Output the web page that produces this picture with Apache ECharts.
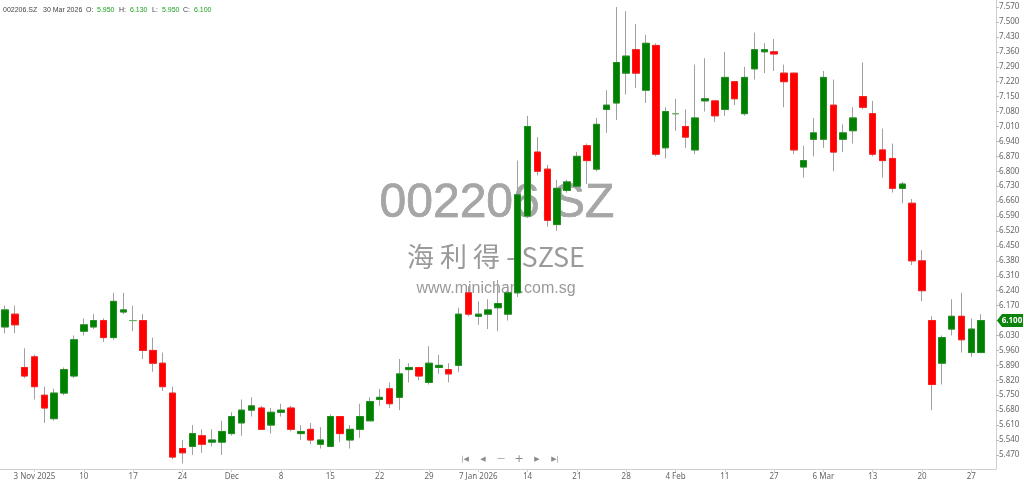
<!DOCTYPE html>
<html><head><meta charset="utf-8">
<script src="https://cdn.jsdelivr.net/npm/echarts@6/dist/echarts.min.js"></script>
<style>html,body{margin:0;padding:0;background:#fff}#c{width:1024px;height:484px}</style>
</head><body><div id="c"></div>
<script>
const symbolCode = '002206.SZ';
const nameCn = '海 利 得 - SZSE';
const site = 'www.minichart.com.sg';

const dates = [
 '2025-10-29','2025-10-30','2025-10-31',
 '2025-11-03','2025-11-04','2025-11-05','2025-11-06','2025-11-07',
 '2025-11-10','2025-11-11','2025-11-12','2025-11-13','2025-11-14',
 '2025-11-17','2025-11-18','2025-11-19','2025-11-20','2025-11-21',
 '2025-11-24','2025-11-25','2025-11-26','2025-11-27','2025-11-28',
 '2025-12-01','2025-12-02','2025-12-03','2025-12-04','2025-12-05',
 '2025-12-08','2025-12-09','2025-12-10','2025-12-11','2025-12-12',
 '2025-12-15','2025-12-16','2025-12-17','2025-12-18','2025-12-19',
 '2025-12-22','2025-12-23','2025-12-24','2025-12-25','2025-12-26',
 '2025-12-29','2025-12-30','2025-12-31',
 '2026-01-05','2026-01-06','2026-01-07','2026-01-08','2026-01-09',
 '2026-01-12','2026-01-13','2026-01-14','2026-01-15','2026-01-16',
 '2026-01-19','2026-01-20','2026-01-21','2026-01-22','2026-01-23',
 '2026-01-26','2026-01-27','2026-01-28','2026-01-29','2026-01-30',
 '2026-02-02','2026-02-03','2026-02-04','2026-02-05','2026-02-06',
 '2026-02-09','2026-02-10','2026-02-11','2026-02-12','2026-02-13',
 '2026-02-25','2026-02-26','2026-02-27',
 '2026-03-02','2026-03-03','2026-03-04','2026-03-05','2026-03-06',
 '2026-03-09','2026-03-10','2026-03-11','2026-03-12','2026-03-13',
 '2026-03-16','2026-03-17','2026-03-18','2026-03-19','2026-03-20',
 '2026-03-23','2026-03-24','2026-03-25','2026-03-26','2026-03-27',
 '2026-03-30'
];

const opens = [
 6.07,6.13,5.88,5.93,5.75,5.64,5.76,5.84,6.05,6.07,
 6.10,6.02,6.14,6.10,6.10,5.96,5.90,5.76,5.50,5.51,
 5.56,5.53,5.53,5.57,5.62,5.68,5.69,5.61,5.67,5.69,
 5.57,5.59,5.52,5.51,5.65,5.54,5.59,5.63,5.73,5.78,
 5.74,5.87,5.88,5.81,5.88,5.87,5.89,6.23,6.12,6.13,
 6.16,6.13,6.23,6.59,6.89,6.81,6.55,6.71,6.73,6.92,
 6.81,7.09,7.12,7.26,7.37,7.18,7.39,6.91,7.07,7.01,
 6.90,7.13,7.13,7.09,7.22,7.07,7.28,7.36,7.36,7.26,
 7.26,6.82,6.95,6.95,7.11,6.95,6.99,7.15,7.07,6.90,
 6.86,6.72,6.65,6.38,6.10,5.90,6.06,6.12,5.95,5.95
];
const closes = [
 6.15,6.08,5.84,5.79,5.69,5.76,5.87,6.01,6.08,6.10,
 6.02,6.19,6.15,6.10,5.96,5.90,5.79,5.46,5.48,5.57,
 5.52,5.54,5.58,5.65,5.68,5.70,5.59,5.67,5.68,5.59,
 5.58,5.54,5.54,5.65,5.57,5.59,5.65,5.72,5.74,5.71,
 5.85,5.88,5.84,5.90,5.89,5.85,6.13,6.13,6.13,6.15,
 6.18,6.23,6.69,7.01,6.80,6.57,6.72,6.75,6.87,6.85,
 7.02,7.11,7.31,7.34,7.26,7.40,6.88,7.08,7.07,6.96,
 7.05,7.14,7.06,7.24,7.14,7.24,7.37,7.37,7.35,7.22,
 6.90,6.85,6.98,7.24,6.89,6.98,7.05,7.10,6.88,6.85,
 6.72,6.74,6.38,6.24,5.80,6.02,6.12,6.01,6.06,6.10
];
const lows = [
 6.04,6.04,5.83,5.73,5.62,5.63,5.75,5.83,6.03,6.06,
 6.00,6.01,6.13,6.05,5.92,5.86,5.77,5.45,5.43,5.47,
 5.48,5.51,5.47,5.56,5.56,5.65,5.59,5.57,5.65,5.58,
 5.54,5.52,5.50,5.51,5.53,5.50,5.55,5.63,5.70,5.69,
 5.68,5.81,5.82,5.80,5.85,5.81,5.86,6.12,6.08,6.06,
 6.05,6.10,6.21,6.58,6.78,6.54,6.52,6.70,6.72,6.74,
 6.80,6.98,7.04,7.16,7.19,7.12,6.87,6.86,6.99,6.91,
 6.88,7.08,7.03,7.06,7.11,7.06,7.23,7.26,7.27,7.10,
 6.88,6.77,6.87,6.91,6.80,6.89,6.93,7.09,6.87,6.77,
 6.70,6.65,6.36,6.19,5.68,5.80,6.03,5.95,5.93,5.95
];
const highs = [
 6.17,6.17,5.97,5.94,5.79,5.78,5.88,6.03,6.11,6.13,
 6.11,6.23,6.23,6.17,6.13,6.02,5.95,5.79,5.54,5.61,
 5.59,5.59,5.63,5.67,5.73,5.74,5.70,5.69,5.71,5.70,
 5.61,5.62,5.60,5.66,5.65,5.61,5.71,5.74,5.78,5.81,
 5.92,5.90,5.88,5.98,5.94,5.90,6.16,6.26,6.19,6.20,
 6.29,6.27,6.85,7.06,6.96,6.83,6.76,6.76,6.89,6.93,
 7.05,7.18,7.57,7.55,7.49,7.44,7.40,7.10,7.14,7.09,
 7.30,7.33,7.13,7.36,7.22,7.29,7.45,7.40,7.42,7.30,
 7.26,6.92,7.05,7.27,7.23,7.02,7.10,7.31,7.13,7.00,
 6.93,6.75,6.67,6.43,6.12,6.03,6.20,6.23,6.11,6.13
];

const yTicks = [5.47,5.54,5.61,5.68,5.75,5.82,5.89,5.96,6.03,6.10,6.17,6.24,6.31,6.38,6.45,6.52,
 6.59,6.66,6.73,6.80,6.87,6.94,7.01,7.08,7.15,7.22,7.29,7.36,7.43,7.50,7.57];
const xTickDates = ['2025-11-03','2025-11-10','2025-11-17','2025-11-24','2025-12-01','2025-12-08',
 '2025-12-15','2025-12-22','2025-12-29','2026-01-07','2026-01-14','2026-01-21','2026-01-28',
 '2026-02-04','2026-02-11','2026-02-27','2026-03-06','2026-03-13','2026-03-20','2026-03-27'];
const xTickTexts = ['3 Nov 2025','10','17','24','Dec','8','15','22','29','7 Jan 2026','14','21','28',
 '4 Feb','11','27','6 Mar','13','20','27'];

const labelMap = {};
xTickDates.forEach((d, i) => { labelMap[d] = xTickTexts[i]; });
const cats = dates.concat(['']);
const fullData = dates.map((d, i) => [opens[i], closes[i], lows[i], highs[i]]);
const bodyData = dates.map((d, i) => [opens[i], closes[i], Math.min(opens[i], closes[i]), Math.max(opens[i], closes[i])]);

const FONT = 'Noto Sans';
const chart = echarts.init(document.getElementById('c'), null, {renderer: 'canvas'});
const showTick = (idx, val) => labelMap[val] !== undefined;

chart.setOption({
  animation: false,
  backgroundColor: '#ffffff',
  grid: {left: 0, right: 28, top: 0, bottom: 15},
  xAxis: {
    type: 'category', data: cats, boundaryGap: true,
    axisLine: {show: true, lineStyle: {color: '#cfcfcf', width: 1}},
    axisTick: {show: true, interval: showTick, alignWithLabel: true, length: 3, lineStyle: {color: '#cfcfcf'}},
    axisLabel: {interval: showTick, formatter: v => labelMap[v] || '', fontSize: 8, color: '#666', fontFamily: FONT, margin: 4},
    splitLine: {show: false}
  },
  yAxis: {
    type: 'value', position: 'right', min: 5.404, max: 7.603, scale: true,
    axisLine: {show: true, lineStyle: {color: '#cfcfcf'}},
    axisTick: {show: true, customValues: yTicks, length: 3, lineStyle: {color: '#bbb'}},
    axisLabel: {customValues: yTicks, formatter: v => v.toFixed(3), fontSize: 8, color: '#666', fontFamily: FONT, margin: 3},
    splitLine: {show: false}
  },
  series: [
    {
      type: 'candlestick', data: fullData, barWidth: 7, z: 2,
      itemStyle: {color: '#a0a0a0', color0: '#a0a0a0', borderColor: '#a0a0a0', borderColor0: '#a0a0a0', borderColorDoji: '#a0a0a0', borderWidth: 1}
    },
    {
      type: 'candlestick', data: bodyData, barWidth: 7, z: 3,
      itemStyle: {color: '#008000', color0: '#ff0000', borderColor: '#1f8f1f', borderColor0: '#ff1a1a', borderColorDoji: '#5cb85c', borderWidth: 1}
    }
  ]
});

const n = dates.length - 1;
const lastDate = new Date(dates[n] + 'T00:00:00');
const months = ['Jan','Feb','Mar','Apr','May','Jun','Jul','Aug','Sep','Oct','Nov','Dec'];
const dateText = lastDate.getDate() + ' ' + months[lastDate.getMonth()] + ' ' + lastDate.getFullYear();
const G = '#1fa01f';
const hdr = (x, t, c) => ({type: 'text', x: x, y: 10, z: 10, style: {text: t, fill: c, fontSize: 7, fontFamily: 'Liberation Sans', textVerticalAlign: 'middle'}});
const yLast = chart.convertToPixel({yAxisIndex: 0}, closes[n]);
const navY = 459;
const nav = (x, t, fs) => ({type: 'text', x: x, y: navY, z: 10, style: {text: t, fill: '#8a8a8a', fontSize: fs || 8, fontFamily: 'DejaVu Sans', textAlign: 'center', textVerticalAlign: 'middle'}});

chart.setOption({
  graphic: [
    {type: 'text', x: 497, y: 204, z: 0, silent: true, style: {text: symbolCode, fill: '#a6a6a6', stroke: '#8c8c8c', lineWidth: 0.6, fontSize: 48, fontFamily: 'Liberation Sans', textAlign: 'center', textVerticalAlign: 'middle'}},
    {type: 'text', x: 496, y: 257, z: 0, silent: true, style: {text: nameCn, fill: '#9a9a9a', fontSize: 27, fontFamily: 'Noto Sans CJK SC', textAlign: 'center', textVerticalAlign: 'middle'}},
    {type: 'text', x: 496, y: 289, z: 0, silent: true, style: {text: site, fill: '#9a9a9a', fontSize: 16, fontFamily: 'Liberation Sans', textAlign: 'center', textVerticalAlign: 'middle'}},
    hdr(3, symbolCode, '#444'),
    hdr(43, dateText, '#444'),
    hdr(86, 'O:', '#444'),
    hdr(97, opens[n].toFixed(3), G),
    hdr(119, 'H:', '#444'),
    hdr(130, highs[n].toFixed(3), G),
    hdr(152, 'L:', '#444'),
    hdr(162, lows[n].toFixed(3), G),
    hdr(183, 'C:', '#444'),
    hdr(194, closes[n].toFixed(3), G),
    nav(465, '|◀', 7), nav(483, '◀', 7), nav(501, '—', 8), nav(519, '+', 11), nav(537, '▶', 7), nav(555, '▶|', 7),
    {type: 'polygon', z: 20, shape: {points: [[997, yLast], [1002, yLast - 6.5], [1023, yLast - 6.5], [1023, yLast + 6.5], [1002, yLast + 6.5]]}, style: {fill: '#0b830b'}},
    {type: 'text', x: 1012, y: yLast, z: 21, style: {text: closes[n].toFixed(3), fill: '#fff', fontSize: 8, fontWeight: 'bold', fontFamily: FONT, textAlign: 'center', textVerticalAlign: 'middle'}}
  ]
});
</script>
</body></html>
